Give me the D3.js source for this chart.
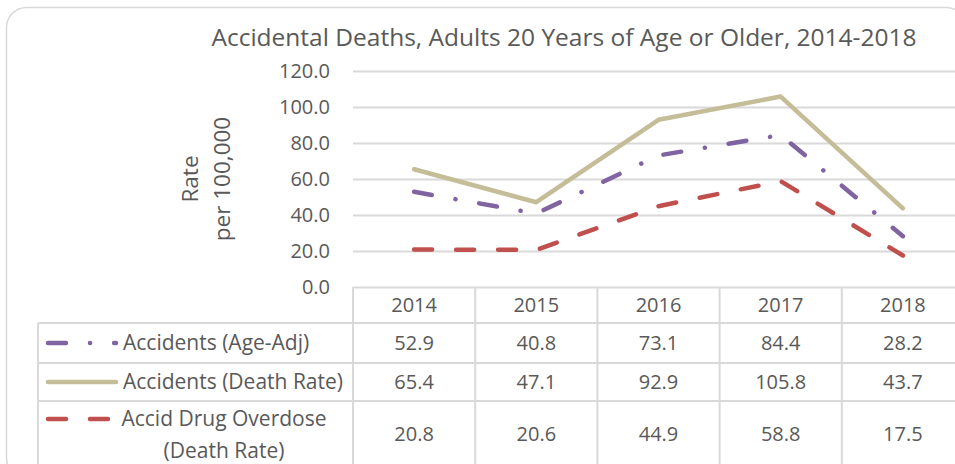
<!DOCTYPE html>
<html>
<head>
<meta charset="utf-8">
<script src="https://cdn.jsdelivr.net/npm/d3@7"></script>
<style>
  html, body { margin: 0; padding: 0; background: #fff; }
  svg { display: block; font-family: 'Open Sans', sans-serif; }
</style>
</head>
<body>
<svg id="chart" width="955" height="464"></svg>
<script>
// chart data
const years = ['2014', '2015', '2016', '2017', '2018'];
const ageAdj = [52.9, 40.8, 73.1, 84.4, 28.2];
const deathRate = [65.4, 47.1, 92.9, 105.8, 43.7];
const drugOverdose = [20.8, 20.6, 44.9, 58.8, 17.5];
const yTicks = [0, 20, 40, 60, 80, 100, 120];

const series = [
  { name: ['Accidents (Age-Adj)'], values: ageAdj, color: '#8064A2', dash: '18 24 0.1 24' },
  { name: ['Accidents (Death Rate)'], values: deathRate, color: '#C4BD97', dash: null },
  { name: ['Accid Drug Overdose', '(Death Rate)'], values: drugOverdose, color: '#C0504D', dash: '18 24' }
];

const textColor = '#595959';
const gridColor = '#D9D9D9';

const svg = d3.select('#chart');

// outer chart border, rounded, runs off the right and bottom edges
svg.append('rect')
  .attr('x', 6.5).attr('y', 7.5)
  .attr('width', 960).attr('height', 470)
  .attr('rx', 20)
  .attr('fill', '#fff')
  .attr('stroke', gridColor)
  .attr('stroke-width', 1.5);

const plot = { left: 353, right: 964, top: 71, bottom: 287 };

const x = d3.scaleBand().domain(years).range([plot.left, plot.right]);
const y = d3.scaleLinear().domain([0, 120]).range([plot.bottom, plot.top]);
const cx = d => x(d) + x.bandwidth() / 2;

// title
svg.append('text')
  .attr('x', 564).attr('y', 46)
  .attr('text-anchor', 'middle')
  .attr('font-size', 24.5)
  .attr('fill', textColor)
  .text('Accidental Deaths, Adults 20 Years of Age or Older, 2014-2018');

// gridlines + y labels
const yAxis = svg.append('g').attr('class', 'axis y')
  .attr('transform', `translate(${plot.left}, 0)`)
  .call(d3.axisLeft(y).tickValues(yTicks).tickSize(-(plot.right - plot.left)).tickPadding(23)
    .tickFormat(d => d3.format('.1f')(d)));
yAxis.select('.domain').remove();
yAxis.selectAll('.tick line').attr('stroke', gridColor).attr('stroke-width', 2);
yAxis.selectAll('.tick text')
  .attr('fill', textColor)
  .attr('font-size', 20)
  .attr('font-family', "'Open Sans', sans-serif");

// y axis title, two lines rotated
const yTitle = svg.append('text')
  .attr('transform', `translate(198, ${(plot.top + plot.bottom) / 2}) rotate(-90)`)
  .attr('text-anchor', 'middle')
  .attr('font-size', 22.5)
  .attr('fill', textColor);
yTitle.append('tspan').attr('x', 0).attr('dy', 0).text('Rate');
yTitle.append('tspan').attr('x', 0).attr('dy', 32).text('per 100,000');

// data table
const table = svg.append('g').attr('class', 'table');
const rowEdges = [323, 363, 401, 480];
const headY = (plot.bottom + rowEdges[0]) / 2;
const legendLeft = 38;

table.selectAll('line.h')
  .data(rowEdges.slice(0, 3))
  .enter().append('line')
  .attr('class', 'h')
  .attr('x1', legendLeft).attr('x2', plot.right)
  .attr('y1', d => d).attr('y2', d => d)
  .attr('stroke', gridColor).attr('stroke-width', 2);

table.selectAll('line.v')
  .data(years.map(d => x(d)).concat([plot.right]))
  .enter().append('line')
  .attr('class', 'v')
  .attr('x1', d => d).attr('x2', d => d)
  .attr('y1', plot.bottom).attr('y2', 480)
  .attr('stroke', gridColor).attr('stroke-width', 2);

table.append('line')
  .attr('x1', legendLeft).attr('x2', legendLeft)
  .attr('y1', rowEdges[0]).attr('y2', 480)
  .attr('stroke', gridColor).attr('stroke-width', 2);

table.selectAll('text.year')
  .data(years)
  .enter().append('text')
  .attr('class', 'year')
  .attr('x', cx).attr('y', headY)
  .attr('dy', '0.35em')
  .attr('text-anchor', 'middle')
  .attr('font-size', 20)
  .attr('fill', textColor)
  .text(d => d);

const rows = table.selectAll('g.row')
  .data(series)
  .enter().append('g')
  .attr('class', 'row');

rows.each(function(s, i) {
  const g = d3.select(this);
  const top = rowEdges[i];
  const bottom = i === 2 ? 467 : rowEdges[i + 1];
  const mid = (top + bottom) / 2;
  const keyY = s.name.length > 1 ? top + 18 : mid;

  g.append('line')
    .attr('x1', 48).attr('x2', 116)
    .attr('y1', keyY).attr('y2', keyY)
    .attr('stroke', s.color)
    .attr('stroke-width', 4.5)
    .attr('stroke-linecap', 'round')
    .attr('stroke-dasharray', s.dash);

  if (s.name.length === 1) {
    g.append('text')
      .attr('x', 123).attr('y', mid).attr('dy', '0.35em')
      .attr('font-size', 21).attr('fill', textColor)
      .text(s.name[0]);
  } else {
    s.name.forEach((t, k) => {
      g.append('text')
        .attr('x', 224).attr('y', keyY + k * 32).attr('dy', '0.35em')
        .attr('text-anchor', 'middle')
        .attr('font-size', 21).attr('fill', textColor)
        .text(t);
    });
  }

  g.selectAll('text.val')
    .data(s.values)
    .enter().append('text')
    .attr('class', 'val')
    .attr('x', (d, j) => cx(years[j]))
    .attr('y', mid).attr('dy', '0.35em')
    .attr('text-anchor', 'middle')
    .attr('font-size', 20).attr('fill', textColor)
    .text(d => d3.format('.1f')(d));
});

// lines
const line = d3.line()
  .x((d, i) => cx(years[i]))
  .y(d => y(d));

svg.append('g').attr('class', 'lines')
  .selectAll('path')
  .data([series[2], series[0], series[1]])
  .enter().append('path')
  .attr('d', d => line(d.values))
  .attr('fill', 'none')
  .attr('stroke', d => d.color)
  .attr('stroke-width', 4.5)
  .attr('stroke-linecap', 'round')
  .attr('stroke-linejoin', 'round')
  .attr('stroke-dasharray', d => d.dash);
</script>
</body>
</html>
